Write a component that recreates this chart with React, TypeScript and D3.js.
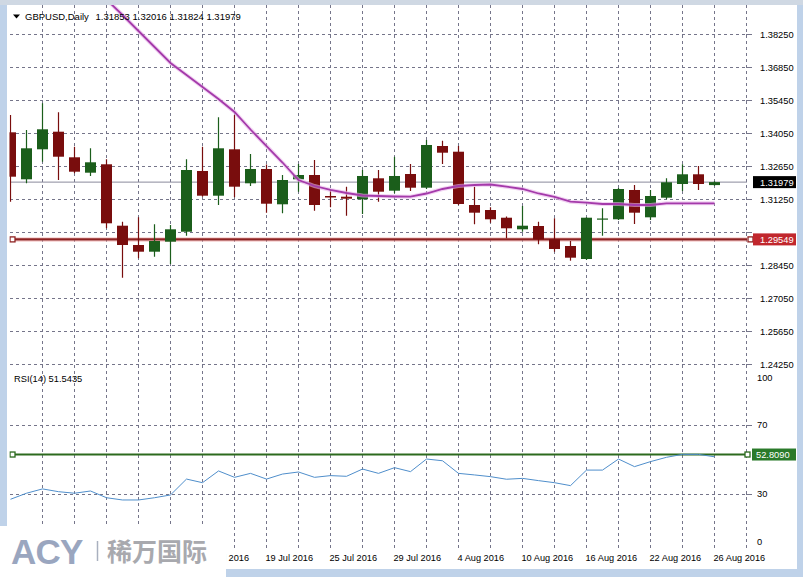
import React from "react";
import * as d3 from "d3";

// ---- data ----
const opens = [1.34092, 1.32099, 1.33371, 1.34118, 1.33032, 1.32379, 1.32735, 1.3013, 1.29311, 1.29027, 1.29451, 1.29875, 1.32451, 1.31403, 1.33371, 1.31929, 1.32536, 1.31038, 1.32099, 1.32281, 1.3139, 1.3136, 1.3125, 1.32141, 1.31615, 1.32323, 1.31742, 1.33511, 1.33269, 1.31008, 1.30796, 1.30469, 1.29977, 1.30117, 1.29553, 1.29269, 1.28717, 1.30393, 1.30402, 1.31645, 1.30486, 1.31318, 1.31899, 1.32311, 1.31853];
const highs = [1.34826, 1.3419, 1.35323, 1.34941, 1.33482, 1.33414, 1.32947, 1.303, 1.30486, 1.30189, 1.3016, 1.32947, 1.33482, 1.34729, 1.34826, 1.33172, 1.32726, 1.32281, 1.32748, 1.32917, 1.31645, 1.31785, 1.32493, 1.32493, 1.33057, 1.32748, 1.33766, 1.33736, 1.33511, 1.31785, 1.30911, 1.3052, 1.30966, 1.303, 1.30444, 1.29481, 1.30491, 1.30868, 1.31729, 1.31857, 1.31645, 1.32141, 1.32735, 1.32663, 1.32016];
const lows = [1.31148, 1.31929, 1.32845, 1.32069, 1.32353, 1.32239, 1.3002, 1.27924, 1.28747, 1.28815, 1.28505, 1.29706, 1.3136, 1.31008, 1.31335, 1.31814, 1.30682, 1.30656, 1.31573, 1.30766, 1.30911, 1.30554, 1.30626, 1.31148, 1.31505, 1.31602, 1.31687, 1.32748, 1.31008, 1.30189, 1.30257, 1.29596, 1.29875, 1.29341, 1.29027, 1.28645, 1.28675, 1.29706, 1.30372, 1.30202, 1.30372, 1.3125, 1.31602, 1.31645, 1.31824];
const closes = [1.32209, 1.33414, 1.3422, 1.33057, 1.32421, 1.3282, 1.30232, 1.29311, 1.29027, 1.29481, 1.29977, 1.32493, 1.31403, 1.33414, 1.31785, 1.32536, 1.31063, 1.32069, 1.32281, 1.31008, 1.31326, 1.31276, 1.32239, 1.31573, 1.32239, 1.31742, 1.33554, 1.33227, 1.31051, 1.30682, 1.30402, 1.3002, 1.3013, 1.29553, 1.29142, 1.28773, 1.30469, 1.30436, 1.31687, 1.30682, 1.3139, 1.31971, 1.32311, 1.31899, 1.31979];
const maValues = [null, null, null, null, null, 1.40384, 1.39726, 1.39069, 1.3839, 1.37711, 1.37032, 1.36523, 1.36014, 1.35505, 1.34954, 1.34211, 1.33511, 1.32811, 1.32069, 1.31814, 1.31645, 1.31517, 1.31411, 1.3139, 1.31369, 1.3136, 1.31496, 1.31687, 1.31814, 1.31857, 1.31878, 1.31785, 1.31687, 1.31496, 1.31348, 1.31148, 1.31106, 1.31051, 1.31051, 1.31008, 1.31008, 1.3108, 1.3108, 1.3108, 1.3108];
const rsiValues = [26.9, 30.4, 32.9, 31.3, 30.4, 31.7, 27.8, 26.5, 26.5, 27.8, 29.4, 38.6, 36.5, 43.3, 39.6, 41.9, 38.6, 41.5, 42.7, 39.6, 40.6, 40.2, 44.4, 41.9, 45.2, 42.9, 50.2, 49.2, 41.9, 41.0, 40.0, 38.5, 39.0, 37.7, 36.5, 34.8, 43.8, 43.8, 50.2, 45.8, 48.7, 51.2, 52.9, 52.9, 51.5];
const dateLabels = ["27 Jun 2016", "1 Jul 2016", "7 Jul 2016", "13 Jul 2016", "19 Jul 2016", "25 Jul 2016", "29 Jul 2016", "4 Aug 2016", "10 Aug 2016", "16 Aug 2016", "22 Aug 2016", "26 Aug 2016"];
const dateLabelBars = [0, 4, 8, 12, 16, 20, 24, 28, 32, 36, 40, 44];
const priceTicks = [1.3825, 1.3685, 1.3545, 1.3405, 1.3265, 1.3125, 1.2985, 1.2845, 1.2705, 1.2565, 1.2425];
const rsiTicks = [100, 70, 30, 0];
const rsiGrid = [70, 30];
const lastPrice = 1.31979;
const levelPrice = 1.29549;
const rsiLevel = 52.809;
const header = ["GBPUSD,Daily", "1.31853 1.32016 1.31824 1.31979"];
const rsiTitle = "RSI(14) 51.5435";

const FONT = "'Liberation Sans', Arial, sans-serif";
const UP = "#1b5e1b";
const DOWN = "#790d0d";
const GRID = "#75758a";
const LOGO_RIGHT = 226;

export default function App() {
  const W = 803, H = 577;
  const x = d3.scaleLinear().domain([0, 46]).range([10.5, 746.5]);
  const y = d3.scaleLinear().domain([1.2425, 1.3825]).range([364.3, 34.3]);
  const yr = d3.scaleLinear().domain([0, 100]).range([545.75, 373]);

  const maLine = d3.line<number | null>()
    .defined((d) => d !== null)
    .x((_, i) => x(i))
    .y((d) => y(d as number));
  const rsiLine = d3.line<number>().x((_, i) => x(i)).y((d) => yr(d));

  const vGrid = d3.range(2, 47, 2);

  return (
    <svg width={W} height={H} style={{ position: "absolute", left: 0, top: 0 }} fontFamily={FONT}>
      <defs>
        <clipPath id="mainClip"><rect x={9.5} y={5} width={737.5} height={364} /></clipPath>
        <clipPath id="rsiClip"><rect x={9.5} y={370} width={737.5} height={180} /></clipPath>
        <clipPath id="dateClip"><rect x={LOGO_RIGHT} y={540} width={W - LOGO_RIGHT} height={37} /></clipPath>
      </defs>
      {/* window frame */}
      <rect x={0} y={0} width={W} height={H} fill="#bfd2e9" />
      <rect x={0} y={0} width={W} height={5} fill="#cfd8e3" />
      <rect x={7} y={5} width={790} height={564} fill="#ffffff" />

      {/* vertical grid */}
      {vGrid.map((i) => (
        <line key={"vg" + i} x1={x(i)} x2={x(i)} y1={5} y2={548} stroke={GRID} strokeDasharray="3,3" strokeWidth={1} />
      ))}
      {/* horizontal price grid */}
      {priceTicks.map((p) => (
        <g key={"pg" + p}>
          <line x1={10} x2={746.5} y1={Math.round(y(p)) + 0.5} y2={Math.round(y(p)) + 0.5} stroke={GRID} strokeDasharray="3,3" />
          <line x1={746} x2={752} y1={Math.round(y(p)) + 0.5} y2={Math.round(y(p)) + 0.5} stroke={GRID} />
          {Math.abs(p - levelPrice) > 0.006 ? (
            <text x={760} y={y(p) + 3.5} fontSize={9.3} fill="#000">{p.toFixed(5)}</text>
          ) : null}
        </g>
      ))}
      {/* RSI grid */}
      {rsiGrid.map((v) => (
        <g key={"rg" + v}>
          <line x1={10} x2={746.5} y1={Math.round(yr(v)) + 0.5} y2={Math.round(yr(v)) + 0.5} stroke={GRID} strokeDasharray="3,3" />
          <line x1={746} x2={752} y1={Math.round(yr(v)) + 0.5} y2={Math.round(yr(v)) + 0.5} stroke={GRID} />
        </g>
      ))}
      {rsiTicks.map((v) => (
        <text key={"rt" + v} x={757} y={Math.min(Math.max(yr(v), 377), 541) + 3.5} fontSize={9.3} fill="#000">{v}</text>
      ))}

      {/* main pane */}
      <g clipPath="url(#mainClip)">
        <line x1={10} x2={754} y1={y(lastPrice)} y2={y(lastPrice)} stroke="#8a8a9c" strokeWidth={1} />
        <line x1={10} x2={752} y1={y(levelPrice)} y2={y(levelPrice)} stroke="#f2b8b8" strokeWidth={5} opacity={0.5} />
        <line x1={10} x2={752} y1={y(levelPrice)} y2={y(levelPrice)} stroke="#8e2222" strokeWidth={2.2} />
        {closes.map((c, i) => {
          const o = opens[i];
          const up = c >= o;
          const col = up ? UP : DOWN;
          const cx = x(i);
          const top = Math.min(y(o), y(c));
          const bh = Math.max(Math.abs(y(o) - y(c)), 1.2);
          return (
            <g key={"c" + i}>
              <line x1={cx} x2={cx} y1={y(highs[i])} y2={y(lows[i])} stroke={col} strokeWidth={1.2} />
              <rect x={cx - 5.5} y={top} width={11} height={bh} fill={col} />
            </g>
          );
        })}
        <path d={maLine(maValues) || ""} fill="none" stroke="#e7b3ea" strokeWidth={4} opacity={0.6} />
        <path d={maLine(maValues) || ""} fill="none" stroke="#a43aaa" strokeWidth={1.8} />
        <rect x={10} y={y(levelPrice) - 2.5} width={5} height={5} fill="#fff" stroke="#8e2222" strokeWidth={1.3} />
      </g>
      <rect x={748} y={y(levelPrice) - 2.5} width={5} height={5} fill="#fff" stroke="#8e2222" strokeWidth={1.3} />

      {/* header */}
      <path d="M13,14.5 L20,14.5 L16.5,18.5 Z" fill="#000" />
      <text x={25} y={19.5} fontSize={9.5} fill="#000">{header[0]}</text>
      <text x={95.5} y={19.5} fontSize={9.5} fill="#000">{header[1]}</text>

      {/* price boxes */}
      <rect x={753} y={y(lastPrice) - 6} width={43} height={12} fill="#000" />
      <text x={760} y={y(lastPrice) + 3.5} fontSize={9.3} fill="#fff">{lastPrice.toFixed(5)}</text>
      <rect x={753} y={y(levelPrice) - 6} width={43} height={12} fill="#c1272d" />
      <text x={760} y={y(levelPrice) + 3.5} fontSize={9.3} fill="#fff">{levelPrice.toFixed(5)}</text>

      {/* RSI pane */}
      <g clipPath="url(#rsiClip)">
        <line x1={10} x2={748} y1={yr(rsiLevel)} y2={yr(rsiLevel)} stroke="#2c6a1e" strokeWidth={2.2} />
        <path d={rsiLine(rsiValues) || ""} fill="none" stroke="#4f8ecb" strokeWidth={1} />
        <rect x={10} y={yr(rsiLevel) - 2.5} width={5} height={5} fill="#fff" stroke="#2c6a1e" strokeWidth={1.3} />
      </g>
      <rect x={745} y={yr(rsiLevel) - 2.5} width={5} height={5} fill="#fff" stroke="#2c6a1e" strokeWidth={1.3} />
      <rect x={752} y={yr(rsiLevel) - 6} width={44} height={12} fill="#2a7a2a" />
      <text x={756} y={yr(rsiLevel) + 3.5} fontSize={9.3} fill="#fff">{rsiLevel.toFixed(4)}</text>
      <text x={14} y={381.5} fontSize={9.3} fill="#000">{rsiTitle}</text>

      {/* date labels (those under the logo are hidden as in the reference) */}
      <g clipPath="url(#dateClip)">
        {dateLabels.map((d, k) =>
          x(dateLabelBars[k]) + 48 > LOGO_RIGHT ? (
            <text key={"d" + k} x={x(dateLabelBars[k]) - 1} y={561} fontSize={9.2} fill="#000">{d}</text>
          ) : null
        )}
      </g>

      {/* logo overlay */}
      <rect x={0} y={526} width={LOGO_RIGHT} height={51} fill="#ffffff" />
      <text x={11} y={564} fontSize={35} fontWeight="bold" fill="#9aa6bf" letterSpacing={-0.8}>ACY</text>
      <line x1={97.5} x2={97.5} y1={541} y2={561} stroke="#a9b0bf" strokeWidth={1.5} />
      <text x={107} y={561} fontSize={25} fontWeight="bold" fill="#a8a9ae" fontFamily="'Noto Sans CJK SC', sans-serif">稀万国际</text>
    </svg>
  );
}
